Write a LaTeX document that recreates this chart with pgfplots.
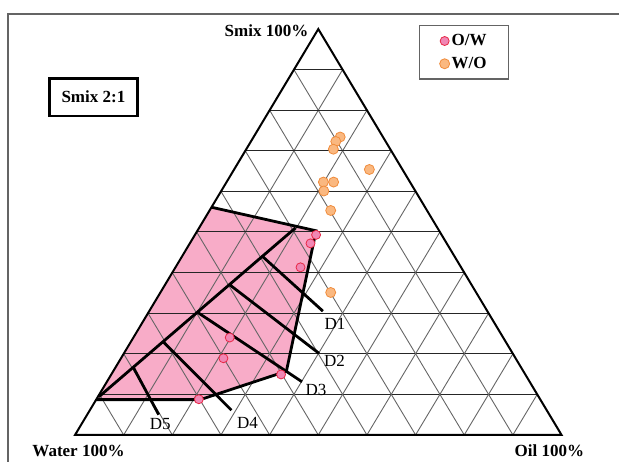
\documentclass[border=0pt]{standalone}
\usepackage{pgfplots}
\pgfplotsset{compat=1.18}
\usepackage{pgfplotstable}
\usepackage{fontspec}
\setmainfont{Liberation Serif}
\definecolor{pinkfill}{RGB}{248,172,200}
\definecolor{owfill}{RGB}{240,135,180}
\definecolor{owedge}{RGB}{232,40,70}
\definecolor{wofill}{RGB}{250,184,128}
\definecolor{woedge}{RGB}{240,140,60}
\definecolor{framegray}{RGB}{100,100,100}

% ternary data: oil (%), smix (%); water = 100 - oil - smix
\pgfplotstableread{
oil smix
0 56.1
24.4 50.3
35.6 15.7
21.4 8.7
0 8.7
}\region

\pgfplotstableread{
oil smix
0 56.1
24.4 50.3
35.6 15.7
21.4 8.7
0 8.7
}\regionedge

\pgfplotstableread{
oil smix
0.2 9.4
19.8 51.0
nan nan
16.8 43.8
35.7 30.5
nan nan
13.6 36.8
40.1 20.1
nan nan
10.1 30.2
40.1 13.1
nan nan
6.7 22.9
29.1 6.1
nan nan
3.8 16.5
14.7 5.0
}\dilution

\pgfplotstableread{
oil smix
24.9 49.3
24.8 47.2
25.7 41.3
19.8 24.0
21.05 18.9
34.9 14.9
21.05 8.8
}\ow

\pgfplotstableread{
oil smix
17.8 73.4
17.45 72.3
17.9 70.4
27.8 65.4
19.9 62.3
22.0 62.3
21.1 60.1
24.9 55.3
35.0 35.1
}\wo

\newcommand{\lab}{\fontsize{17}{20}\selectfont\bfseries}
\newcommand{\dlab}{\fontsize{17}{20}\selectfont}

\begin{document}
\begin{tikzpicture}
\begin{axis}[
  at={(0pt,0pt)}, anchor=south west,
  scale only axis, width=619pt, height=461pt,
  xmin=-15.42, xmax=111.81, ymin=-6.42, ymax=107.16,
  hide axis, clip=false,
  unbounded coords=jump,
  legend style={at={(0.6769,0.9458)}, anchor=north west, draw=framegray,
    line width=1.3pt, font=\lab, inner xsep=20pt, inner ysep=7pt,
    row sep=6pt, /tikz/every even column/.append style={column sep=3pt}},
  legend cell align=left,
  legend image code/.code={\draw[#1] plot coordinates {(0pt,0pt)};},
]
% pink region
\addplot[fill=pinkfill, draw=none, forget plot]
  table[x expr=\thisrow{oil}+0.5*\thisrow{smix}, y=smix] {\region} -- cycle;
% grid
\pgfplotsinvokeforeach{1,...,9}{
  \draw[black!85, line width=1pt] ({#1*5},{#1*10}) -- ({100-#1*5},{#1*10});
  \draw[black!60, line width=0.9pt] ({#1*10},0) -- ({50+#1*5},{100-#1*10});
  \draw[black!60, line width=0.9pt] ({100-#1*10},0) -- ({50-#1*5},{100-#1*10});
}
% triangle
\draw[black, line width=2pt, line join=miter] (0,0) -- (100,0) -- (50,100) -- cycle;
% dilution lines
\addplot[black, line width=2.8pt, forget plot]
  table[x expr=\thisrow{oil}+0.5*\thisrow{smix}, y=smix] {\dilution};
% region outline
\addplot[black, line width=2.8pt, forget plot]
  table[x expr=\thisrow{oil}+0.5*\thisrow{smix}, y=smix] {\regionedge};
% points
\addplot[only marks, mark=*, mark size=4.5pt,
  mark options={fill=owfill, draw=owedge, line width=0.8pt}]
  table[x expr=\thisrow{oil}+0.5*\thisrow{smix}, y=smix] {\ow};
\addlegendentry{O/W}
\addplot[only marks, mark=*, mark size=5pt,
  mark options={fill=wofill, draw=woedge, line width=0.8pt}]
  table[x expr=\thisrow{oil}+0.5*\thisrow{smix}, y=smix] {\wo};
\addlegendentry{W/O}
\end{axis}
% labels
\node[anchor=base, inner sep=0pt] at (266.5pt,424pt) {\lab Smix 100\%};
\node[anchor=base, inner sep=0pt] at (78.5pt,4.5pt) {\lab Water 100\%};
\node[anchor=base, inner sep=0pt] at (549.3pt,4.5pt) {\lab Oil 100\%};
\node[anchor=base, inner sep=0pt] at (335pt,131pt) {\dlab D1};
\node[anchor=base, inner sep=0pt] at (334.4pt,94pt) {\dlab D2};
\node[anchor=base, inner sep=0pt] at (316pt,66pt) {\dlab D3};
\node[anchor=base, inner sep=0pt] at (247.4pt,32.5pt) {\dlab D4};
\node[anchor=base, inner sep=0pt] at (160.3pt,31pt) {\dlab D5};
\draw[black, line width=2.6pt] (49.3pt,382.7pt) rectangle (137.4pt,345pt);
\node[inner sep=0pt] at (93.4pt,363.8pt) {\lab Smix 2:1};
\draw[framegray, line width=1.3pt] (8pt,-10pt) -- (8pt,447pt) -- (640pt,447pt);
\pgfresetboundingbox
\path (0pt,0pt) rectangle (619pt,461pt);
\end{tikzpicture}
\end{document}
